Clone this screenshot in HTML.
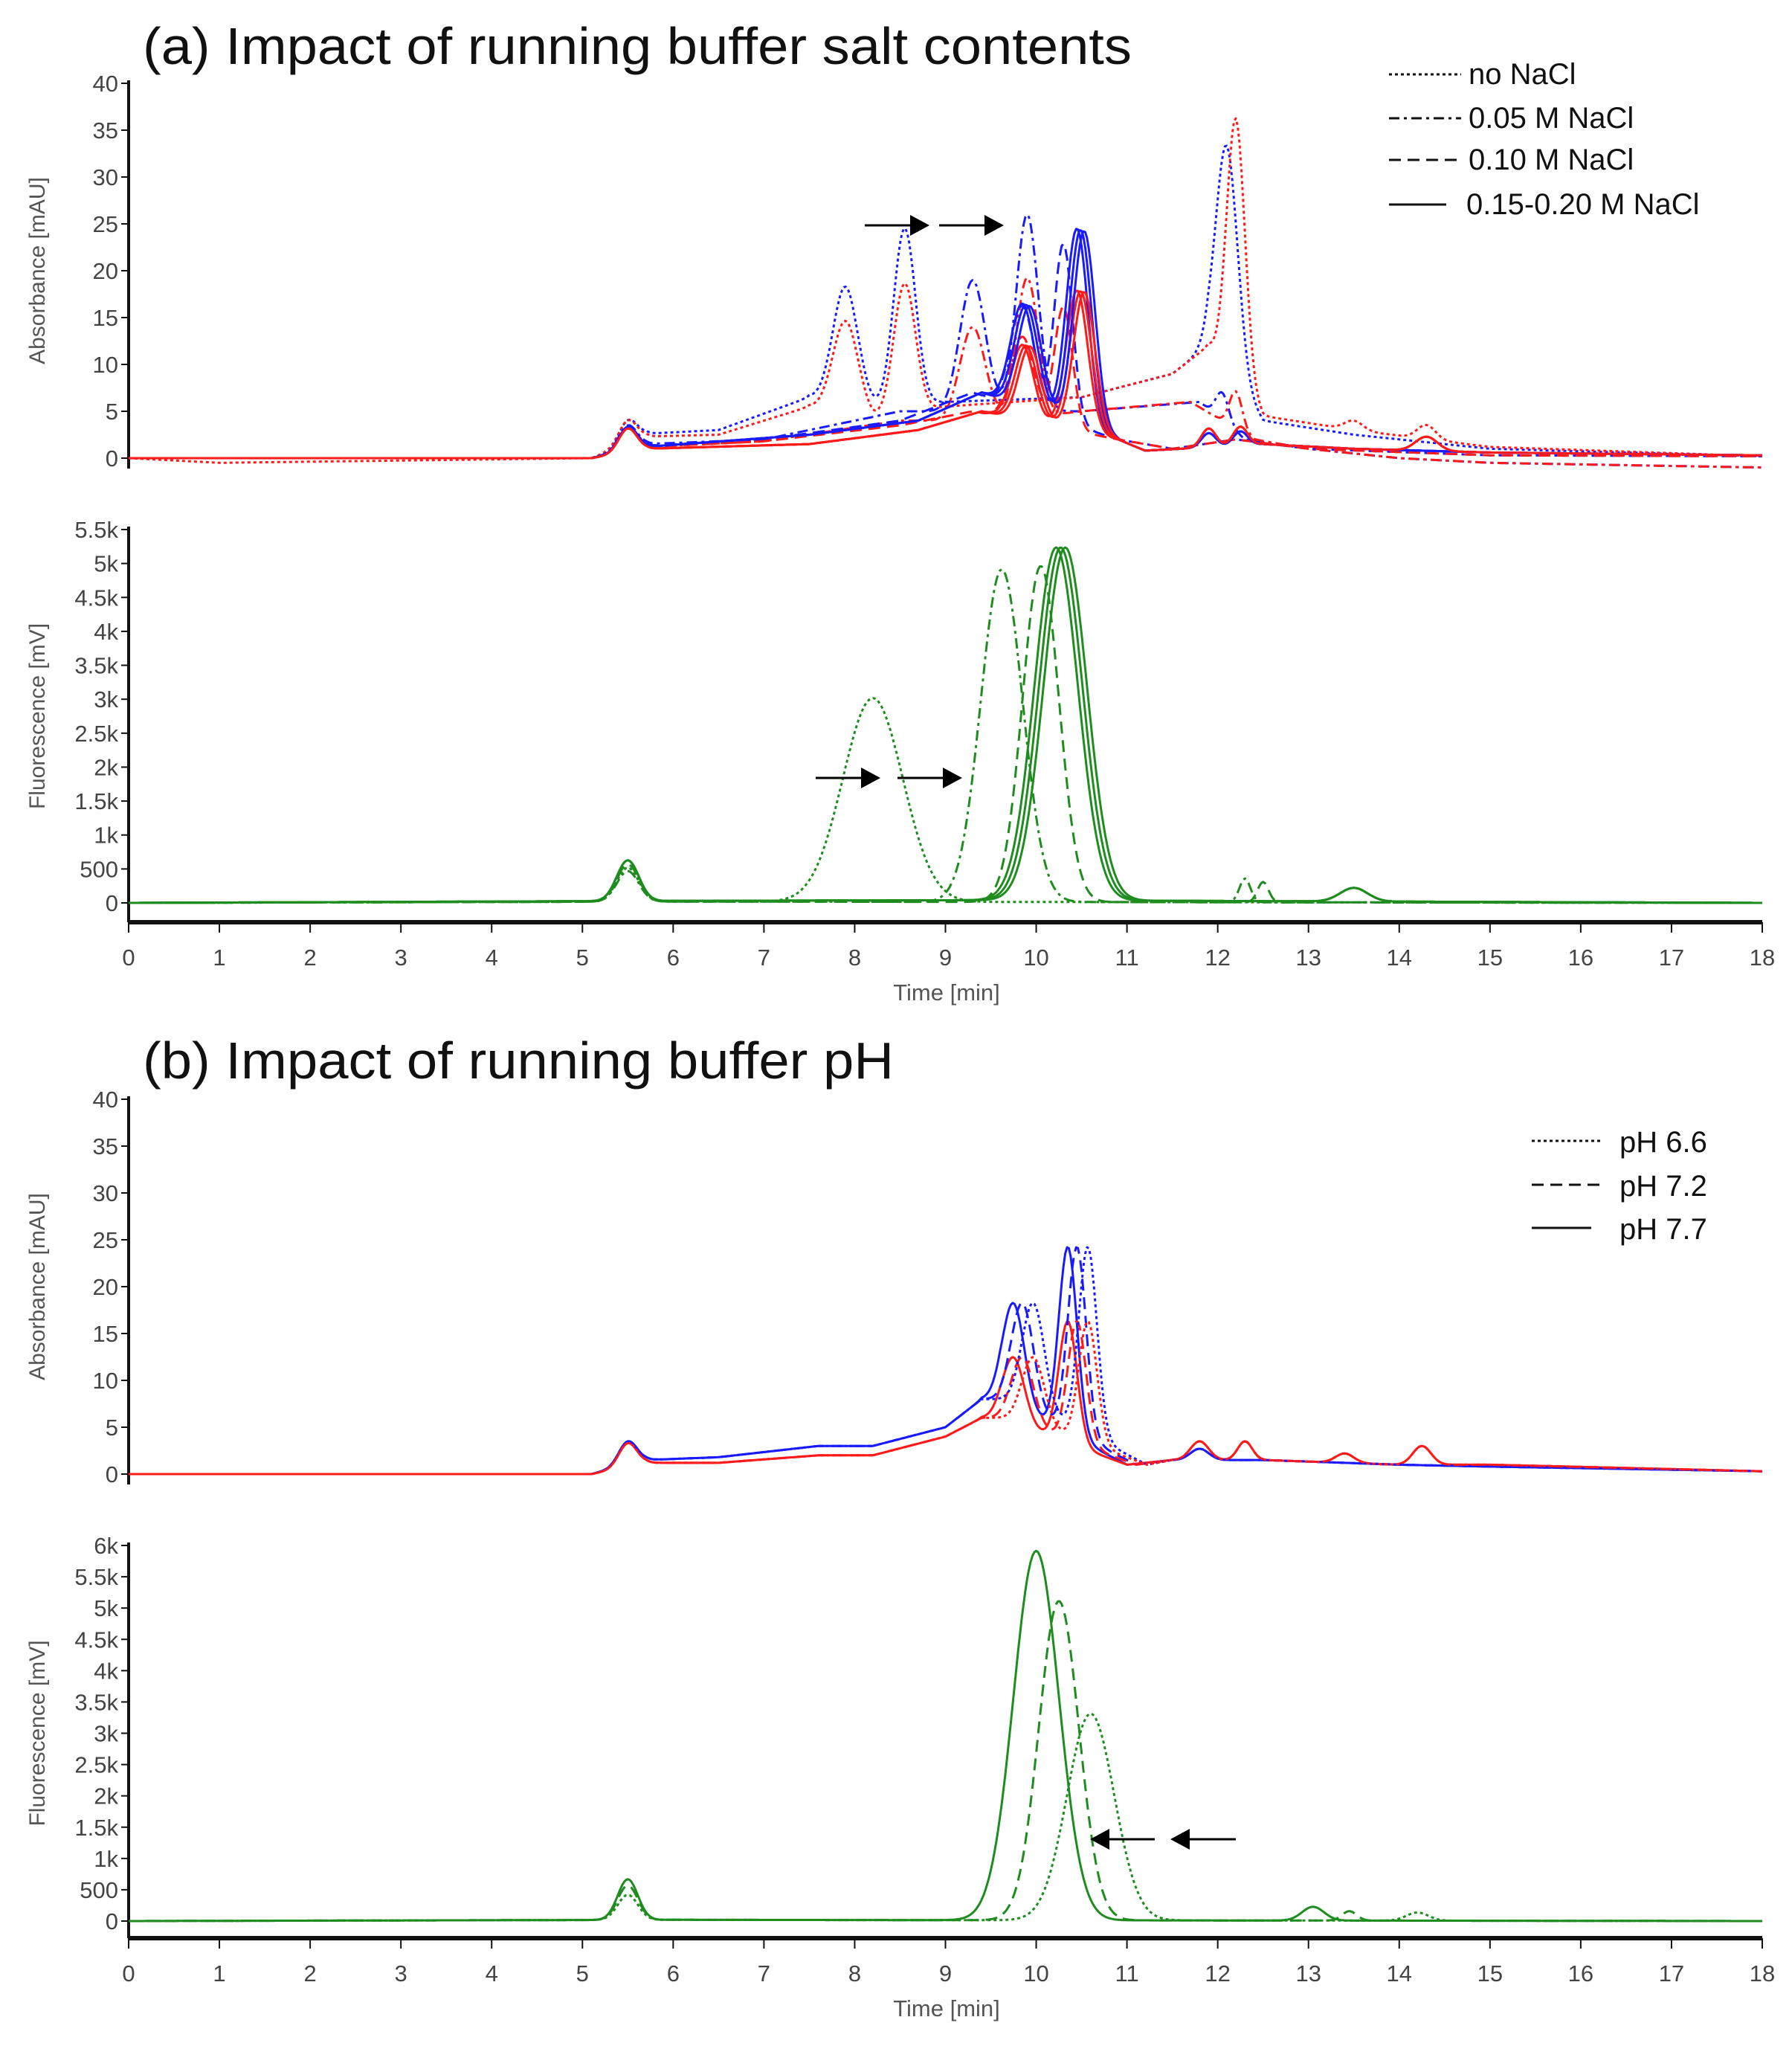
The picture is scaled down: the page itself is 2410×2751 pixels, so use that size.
<!DOCTYPE html>
<html><head><meta charset="utf-8"><style>
body{margin:0;background:#fff}
svg{display:block}
text{font-family:"Liberation Sans",sans-serif}
</style></head><body>
<svg id="s" width="2410" height="2751" viewBox="0 0 2410 2751" xmlns="http://www.w3.org/2000/svg">
<text x="192" y="86" font-size="70" fill="#111" textLength="1330" lengthAdjust="spacingAndGlyphs">(a) Impact of running buffer salt contents</text>
<text x="192" y="1450" font-size="70" fill="#111" textLength="1010" lengthAdjust="spacingAndGlyphs">(b) Impact of running buffer pH</text>
<g font-size="40" fill="#111">
<text x="1975" y="113">no NaCl</text>
<text x="1975" y="172">0.05 M NaCl</text>
<text x="1975" y="228">0.10 M NaCl</text>
<text x="1972" y="288">0.15-0.20 M NaCl</text>
<text x="2178" y="1549">pH 6.6</text>
<text x="2178" y="1608">pH 7.2</text>
<text x="2178" y="1666">pH 7.7</text>
</g>
<g stroke="#111" stroke-width="3">
<line x1="1868" y1="100" x2="1965" y2="100" stroke-dasharray="4,4"/>
<line x1="1868" y1="159" x2="1965" y2="159" stroke-dasharray="14,6,4,6"/>
<line x1="1868" y1="215" x2="1965" y2="215" stroke-dasharray="16,9"/>
<line x1="1868" y1="275" x2="1945" y2="275"/>
<line x1="2060" y1="1534" x2="2155" y2="1534" stroke-dasharray="4,4"/>
<line x1="2060" y1="1593" x2="2155" y2="1593" stroke-dasharray="16,9"/>
<line x1="2060" y1="1651" x2="2140" y2="1651"/>
</g>
<g id="axes"></g>
<g id="curves" fill="none" stroke-linejoin="round"></g>
<g id="arrows"></g>
</svg>
<script>
var NS="http://www.w3.org/2000/svg";
function el(p,t,a,txt){var e=document.createElementNS(NS,t);for(var k in a)e.setAttribute(k,a[k]);if(txt!=null)e.textContent=txt;document.getElementById(p).appendChild(e);return e;}
var X0=173,X1=2370;function X(t){return X0+(X1-X0)*t/18;}
var P={aA:{y0:616,yt:112,vmax:40,step:5,k:false,bot:630},
aF:{y0:1214,yt:712,vmax:5500,step:500,k:true,bot:1240},
bA:{y0:1982,yt:1478,vmax:40,step:5,k:false,bot:1996},
bF:{y0:2583,yt:2078,vmax:6000,step:500,k:true,bot:2606}};
function Y(p,v){return p.y0-(p.y0-p.yt)*v/p.vmax;}
function lbl(v,k){if(!k)return ""+v;if(v==0)return "0";if(v<1000)return ""+v;return (v/1000)+"k";}
for(var n in P){var p=P[n];
el("axes","line",{x1:X0,y1:p.yt-4,x2:X0,y2:p.bot,stroke:"#111","stroke-width":4});
for(var v=0;v<=p.vmax+1e-6;v+=p.step){var y=Y(p,v);
el("axes","line",{x1:X0-10,y1:y,x2:X0,y2:y,stroke:"#111","stroke-width":2});
el("axes","text",{x:X0-14,y:y+11,"font-size":31,"text-anchor":"end",fill:"#444"},lbl(v,p.k));}
var yc=(p.y0+p.yt)/2;
el("axes","text",{x:60,y:yc,"font-size":30,"text-anchor":"middle",fill:"#555",transform:"rotate(-90 60 "+yc+")"},n[1]=="A"?"Absorbance [mAU]":"Fluorescence [mV]");
if(n[1]=="F"){el("axes","line",{x1:X0,y1:p.bot,x2:X1,y2:p.bot,stroke:"#111","stroke-width":6});
for(var t=0;t<=18;t++){el("axes","line",{x1:X(t),y1:p.bot,x2:X(t),y2:p.bot+14,stroke:"#111","stroke-width":2});
el("axes","text",{x:X(t),y:p.bot+58,"font-size":31,"text-anchor":"middle",fill:"#444"},""+t);}
el("axes","text",{x:1273,y:p.bot+105,"font-size":31,"text-anchor":"middle",fill:"#555"},"Time [min]");}}
function interp(pts,t){if(t<=pts[0][0])return pts[0][1];for(var i=1;i<pts.length;i++){if(t<=pts[i][0]){var a=pts[i-1],b=pts[i];return a[1]+(b[1]-a[1])*(t-a[0])/(b[0]-a[0]);}}return pts[pts.length-1][1];}
function curve(p,base,peaks,col,dash,sw){var d="";for(var t=0;t<=18.001;t+=0.02){var v=interp(base,t);for(var i=0;i<peaks.length;i++){var q=peaks[i];v+=q[1]*Math.exp(-(t-q[0])*(t-q[0])/(2*q[2]*q[2]));}
d+=(d?"L":"M")+X(t).toFixed(1)+","+Y(p,v).toFixed(1);}
var a={d:d,stroke:col,"stroke-width":sw||3};if(dash)a["stroke-dasharray"]=dash;el("curves","path",a);}
var DOT="4,4",DD="14,6,4,6",DA="16,9",B="#1a1aff",R="#ff1a1a",G="#1e8c1e";
var aA=P.aA;
var bDot=[[0,0],[5.1,0],[5.3,0.5],[5.7,2.6],[6.5,3],[7.5,6.5],[8,5],[9,6],[10.5,6.5],[11.5,9],[11.9,12],[12.5,4],[13.5,2.5],[15,1],[18,0.2]];
var pk5=[5.5,2.5,0.1];
curve(aA,bDot,[pk5,[7.9,13,0.14],[8.55,19,0.12],[12.1,24,0.12]],B,DOT);
curve(aA,[[0,0],[1,-0.5],[5.1,0],[5.7,2.3],[6.5,2.5],[7.5,5.5],[8.2,4],[9,5.5],[10.5,6.5],[11.5,9],[11.9,12],[12.5,4.5],[13.5,3],[15,1.2],[18,0.2]],[pk5,[7.9,10,0.14],[8.55,14,0.12],[12.2,28,0.1],[13.5,1,0.1],[14.3,1.5,0.1]],R,DOT);
var bDD=[[0,0],[5.1,0],[5.7,1.5],[7,2],[8.5,5],[9.7,5],[10.5,5],[11.8,6],[12.3,2],[13,1],[14,0],[15,-0.5],[18,-1]];
curve(aA,bDD,[pk5,[9.3,14,0.14],[9.9,21,0.12],[12.05,3,0.07]],B,DD);
curve(aA,[[0,0],[5.1,0],[5.7,1.2],[7,1.8],[8.5,4],[9.7,4],[10.5,5],[11.7,6],[12.4,2],[13,1],[14,0],[15,-0.5],[18,-1]],[pk5,[9.3,10,0.14],[9.9,15,0.12],[12.2,4,0.07]],R,DD);
var bDA=[[0,0],[5.1,0],[5.7,1.3],[7,2],[8.5,4],[9.3,7],[10.9,2],[11.5,1],[12.2,2],[13,1],[15,0.3],[18,0.2]];
curve(aA,bDA,[pk5,[9.85,11,0.13],[10.3,19,0.1]],B,DA);
curve(aA,[[0,0],[5.1,0],[5.7,1.2],[7,1.8],[8.5,3.5],[9.3,5],[10.9,2],[11.5,1],[12.2,2],[13,1],[15,0.3],[18,0.2]],[pk5,[9.85,9,0.13],[10.3,13,0.1]],R,DA);
var bS=[[0,0],[5.1,0],[5.7,1.2],[7.5,2.5],[8.7,4],[9.4,7],[10.9,2],[11.2,0.8],[11.6,1],[12.5,1.5],[13.5,1],[15,0.6],[18,0.3]];
for(var j=0;j<3;j++){var o=j*0.04;
curve(aA,bS,[pk5,[9.85+o,11,0.13],[10.45+o,21,0.12],[11.9,1.5,0.08],[12.25,1.5,0.08]],B,null);
curve(aA,[[0,0],[5.1,0],[5.7,1],[7.5,1.5],[8.7,3],[9.4,5],[10.9,2],[11.2,0.8],[11.6,1],[12.5,1.5],[13.5,1],[15,0.6],[18,0.3]],[pk5,[9.85+o,8,0.12],[10.45+o,15,0.12],[11.9,2,0.08],[12.25,2,0.08],[14.3,1.5,0.12]],R,null);}
var aF=P.aF;
curve(aF,[[0,0],[6,20],[18,0]],[[5.5,500,0.12],[8.2,3000,0.33]],G,DOT);
curve(aF,[[0,0],[6,20],[18,0]],[[5.5,450,0.12],[9.62,4900,0.23],[12.3,350,0.06]],G,DD);
curve(aF,[[0,0],[6,20],[18,0]],[[5.5,550,0.12],[10.05,4950,0.2],[12.5,300,0.06]],G,DA);
for(var j=0;j<3;j++)curve(aF,[[0,0],[6,30],[9.5,40],[18,0]],[[5.5,600,0.12],[10.22+j*0.05,5200,0.24],[13.5,200,0.15]],G,null);
var bA=P.bA;
var sh=[0,0.1,0.22],ds=[null,DA,DOT];
for(var j=0;j<3;j++){var o=sh[j];
curve(bA,[[0,0],[5.1,0],[5.7,1.5],[6.5,1.8],[7.6,3],[8.2,3],[9,5],[9.4,8],[9.6+o,8],[11+o,1],[11.5,1.5],[12.5,1.5],[14,1],[15,0.8],[18,0.3]],[[5.5,2.5,0.1],[9.75+o,11,0.12],[10.35+o,20,0.1],[11.8,1.2,0.1]],B,ds[j]);
curve(bA,[[0,0],[5.1,0],[5.7,1.2],[6.5,1.2],[7.6,2],[8.2,2],[9,4],[9.4,6],[9.6+o,6],[11+o,1],[11.5,1.5],[12.5,1.5],[14,1],[15,1],[18,0.3]],[[5.5,2.5,0.1],[9.75+o,7,0.12],[10.35+o,13,0.1],[11.8,2,0.1],[12.3,2,0.08],[13.4,1,0.1],[14.25,2,0.1]],R,ds[j]);}
var bF=P.bF;
curve(bF,[[0,0],[6,20],[18,0]],[[5.5,650,0.11],[10.0,5900,0.25],[13.05,220,0.12]],G,null);
curve(bF,[[0,0],[6,20],[18,0]],[[5.5,550,0.11],[10.25,5100,0.22],[13.45,150,0.08]],G,DA);
curve(bF,[[0,0],[6,20],[18,0]],[[5.5,400,0.11],[10.6,3300,0.26],[14.2,130,0.12]],G,DOT);
function arrow(x1,x2,y){var dir=x2>x1?1:-1;el("arrows","line",{x1:x1,y1:y,x2:x2-dir*22,y2:y,stroke:"#000","stroke-width":3});
el("arrows","polygon",{points:x2+","+y+" "+(x2-dir*26)+","+(y-14)+" "+(x2-dir*26)+","+(y+14),fill:"#000"});}
arrow(1163,1250,303);arrow(1263,1350,303);
arrow(1097,1184,1046);arrow(1207,1294,1046);
arrow(1553,1466,2473);arrow(1662,1574,2473);
</script>
</body></html>
